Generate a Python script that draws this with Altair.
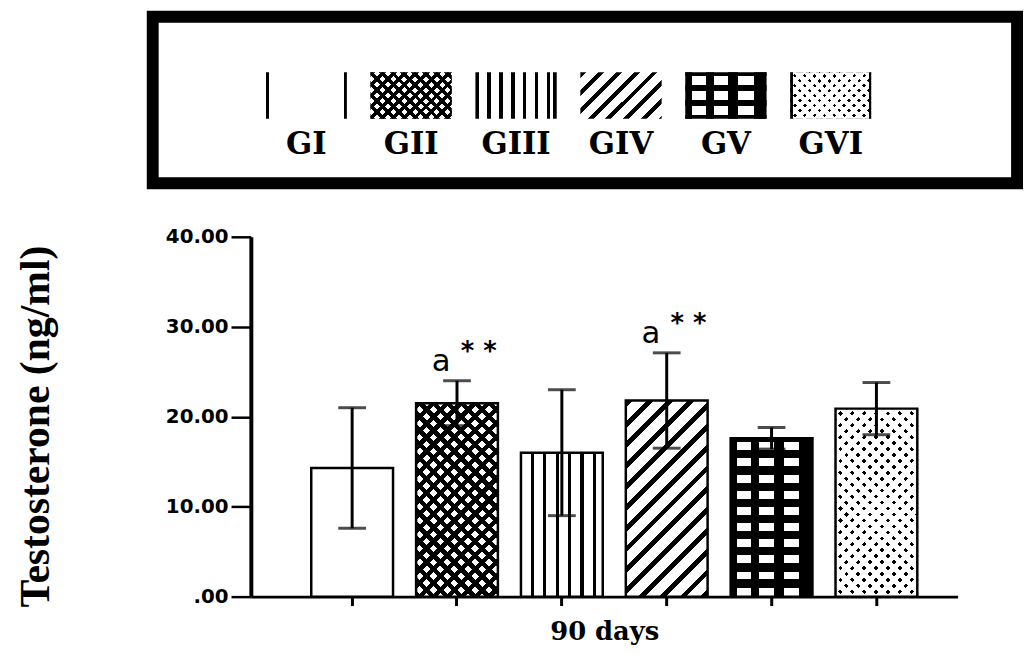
import altair as alt
import pandas as pd

# ---------------- data ----------------
groups = ["GI", "GII", "GIII", "GIV", "GV", "GVI"]
means = [14.3, 21.5, 16.0, 21.8, 17.6, 20.9]
sds = [6.7, 2.5, 7.0, 5.3, 1.2, 2.9]
ann_groups = ["GII", "GIV"]
ann_letters = ["a", "a"]
ann_stars = ["* *", "* *"]
y_ticks = [0, 10, 20, 30, 40]
y_max = 40
x_title = "90 days"
y_title = "Testosterone (ng/ml)"

df = pd.DataFrame({"group": groups, "mean": means, "sd": sds})
df["lower"] = df["mean"] - df["sd"]
df["upper"] = df["mean"] + df["sd"]
ann = pd.DataFrame({"group": ann_groups, "letter": ann_letters, "stars": ann_stars})
ann = ann.merge(df[["group", "upper"]], on="group")
lsrc = pd.DataFrame({"group": groups})

# ---------------- layout ----------------
PW, PH = 713, 363          # plot area
LW, LH = 872, 168          # legend box
BAR_PI, BAR_PO, BAR_AL = 0.22, 0.48, 0.60
step = PW / (len(groups) - BAR_PI + 2 * BAR_PO)
BW = step * (1 - BAR_PI)
SW, SH = 82, 47            # legend swatch

BLACK, WHITE, CLEAR = "#000000", "#ffffff", "rgba(0,0,0,0)"


# ---------------- pattern helpers (hard-stop gradients) ----------------
def periodic(total, period, start, length):
    out = []
    k = -2
    while True:
        a = start + k * period
        if a >= total:
            break
        b = a + length
        if b > 0:
            a2, b2 = max(a, 0.0), min(b, total)
            if b2 > a2:
                out.append((a2, b2))
        k += 1
    return out


def complement(iv, total):
    out, cur = [], 0.0
    for a, b in iv:
        if a > cur:
            out.append((cur, a))
        cur = max(cur, b)
    if cur < total:
        out.append((cur, total))
    return out


def gradient(iv, total, on, off, x1, y1, x2, y2):
    stops = [(0.0, off)]
    for a, b in iv:
        fa, fb = a / total, b / total
        stops += [(fa, off), (fa, on), (fb, on), (fb, off)]
    stops.append((1.0, off))
    return alt.LinearGradient(
        gradient="linear",
        stops=[alt.GradientStop(offset=round(o, 4), color=c) for o, c in stops],
        x1=x1, y1=y1, x2=x2, y2=y2,
    )


def along_x(w, iv, on, off):
    return gradient(iv, w, on, off, 0, 0, 1, 0)


def along_y(h, iv, on, off):
    return gradient(iv, h, on, off, 1, 0, 1, 1)


def diag(w, h, period, length, on, off, rising=True, start=0.0):
    k = (w + h) / (w * w + h * h)
    a, b = k * w, k * h
    total = w + h
    iv = periodic(total, period, start, length)
    if rising:
        return gradient(iv, total, on, off, 0, 0, round(a, 5), round(b, 5))
    return gradient(iv, total, on, off, 0, 1, round(a, 5), round(1 - b, 5))


def pattern(name, w, h, legend=False):
    if name == "GI":
        if legend:
            return [along_x(w, [(0, 3), (w - 3, w)], BLACK, WHITE)]
        return [WHITE]
    if name == "GII":
        P = 11 if legend else 14
        return [WHITE,
                diag(w, h, P, 0.45 * P, BLACK, CLEAR, True),
                diag(w, h, P, 0.45 * P, BLACK, CLEAR, False)]
    if name == "GIII":
        if legend:
            iv = periodic(w - 6, 12, 0, 3.5) + [(w - 3.5, w)]
        else:
            iv = periodic(w, 12.5, 10, 3.2)
        return [along_x(w, iv, BLACK, WHITE)]
    if name == "GIV":
        P = 18 if legend else 21
        return [diag(w, h, P, 0.33 * P, BLACK, WHITE, True)]
    if name == "GV":
        cols_white = [(0.08 * w, 0.25 * w), (0.35 * w, 0.53 * w), (0.65 * w, 0.84 * w)]
        if legend:
            s = h / 47.0
            rows_white = [(4 * s, 13 * s), (19 * s, 28 * s), (34 * s, 43 * s)]
        else:
            rows_white = [iv for iv in periodic(h, 16.3, 4, 8) if iv[0] >= 3]
        return [WHITE,
                along_x(w, complement(cols_white, w), BLACK, CLEAR),
                along_y(h, complement(rows_white, h), BLACK, CLEAR)]
    if name == "GVI":
        P = 10 if legend else 12
        out = [BLACK,
               diag(w, h, P, 0.62 * P, WHITE, CLEAR, True),
               diag(w, h, P, 0.62 * P, WHITE, CLEAR, False)]
        if legend:
            out.append(along_x(w, [(0, 3), (w - 3, w)], BLACK, CLEAR))
        return out
    return [WHITE]


# ---------------- main chart ----------------
xs = alt.Scale(domain=groups, paddingInner=BAR_PI, paddingOuter=BAR_PO, align=BAR_AL)
X = alt.X(
    "group:N", scale=xs, sort=groups,
    axis=alt.Axis(
        title=x_title, labels=False, ticks=True, tickSize=9, tickWidth=3,
        tickColor="black", domainColor="black", domainWidth=3,
        titleFont="DejaVu Serif", titleFontWeight="bold", titleFontSize=26,
        titlePadding=12, titleColor="black",
    ),
)
ys = alt.Scale(domain=[0, y_max], nice=False, zero=True)
yaxis = alt.Axis(
    title=y_title, values=y_ticks,
    labelExpr="datum.value == 0 ? '.00' : format(datum.value, '.2f')",
    grid=False, tickSize=20, tickWidth=2.5, tickColor="black",
    domainColor="black", domainWidth=4,
    labelFont="DejaVu Sans", labelFontWeight="bold", labelFontSize=20,
    labelColor="black", labelPadding=3,
    titleFont="Liberation Serif", titleFontWeight="bold", titleFontSize=42,
    titleColor="black", titleX=-195, titleY=191,
)


def Yf(field):
    return alt.Y(field, scale=ys, axis=yaxis)


layers = []
for i, g in enumerate(groups):
    h = means[i] / y_max * PH
    for fill in pattern(g, BW, h):
        layers.append(
            alt.Chart(df).transform_filter(alt.datum.group == g)
            .mark_bar(fill=fill, strokeWidth=0)
            .encode(x=X, y=Yf("mean:Q"))
        )

layers.append(
    alt.Chart(df).mark_bar(fillOpacity=0, stroke="black", strokeWidth=2.5)
    .encode(x=X, y=Yf("mean:Q"))
)
layers.append(
    alt.Chart(df).mark_rule(color="black", strokeWidth=3)
    .encode(x=X, y=Yf("lower:Q"), y2="upper:Q")
)
layers.append(
    alt.Chart(df).mark_tick(color="black", thickness=3, size=28)
    .encode(x=X, y=Yf("upper:Q"))
)
layers.append(
    alt.Chart(df).mark_tick(color="black", thickness=3, size=28)
    .encode(x=X, y=Yf("lower:Q"))
)
layers.append(
    alt.Chart(ann).mark_text(font="DejaVu Sans", fontSize=31, color="black",
                             baseline="alphabetic", dx=-16, dy=-10)
    .encode(x=X, y=Yf("upper:Q"), text="letter:N")
)
layers.append(
    alt.Chart(ann).mark_text(font="DejaVu Sans", fontSize=26, fontWeight="bold",
                             color="black", baseline="alphabetic", dx=22, dy=-21)
    .encode(x=X, y=Yf("upper:Q"), text="stars:N")
)

main = alt.layer(*layers).properties(
    width=PW, height=PH, view=alt.ViewBackground(stroke="transparent")
)

# invisible spacer that shifts the plot area to the right of the legend box edge
spacer = alt.Chart(lsrc).mark_point(opacity=0).properties(
    width=1, height=PH, view=alt.ViewBackground(stroke="transparent")
)
row2 = alt.hconcat(spacer, main, spacing=98, bounds="flush")

# ---------------- legend box ----------------
lxs = alt.Scale(domain=groups, paddingInner=0.225, paddingOuter=1, range=[8, 831])
lys = alt.Scale(domain=["swatch", "label"], paddingInner=0.06, paddingOuter=0.71, align=0.789)
LX = alt.X("group:N", scale=lxs, sort=groups, axis=None)
LY = alt.Y("row:N", scale=lys, sort=["swatch", "label"], axis=None)

llayers = []
for g in groups:
    for fill in pattern(g, SW, SH, legend=True):
        llayers.append(
            alt.Chart(lsrc).transform_filter(alt.datum.group == g)
            .transform_calculate(row="'swatch'")
            .mark_rect(fill=fill, strokeWidth=0)
            .encode(x=LX, y=LY)
        )
llayers.append(
    alt.Chart(lsrc).transform_calculate(row="'label'")
    .mark_text(font="DejaVu Serif", fontSize=31, fontWeight="bold",
               baseline="middle", color="black")
    .encode(x=LX, y=LY, text="group:N")
)

legend = alt.layer(*llayers).properties(
    width=LW, height=LH, view=alt.ViewBackground(stroke="black", strokeWidth=12)
)

chart = alt.vconcat(
    legend, row2, spacing=37,
    padding={"left": 6, "top": 0, "right": 0, "bottom": 0},
).configure(background="white").configure_view(stroke="transparent")

chart.save("out.html", embed_options={"renderer": "svg", "actions": False})
